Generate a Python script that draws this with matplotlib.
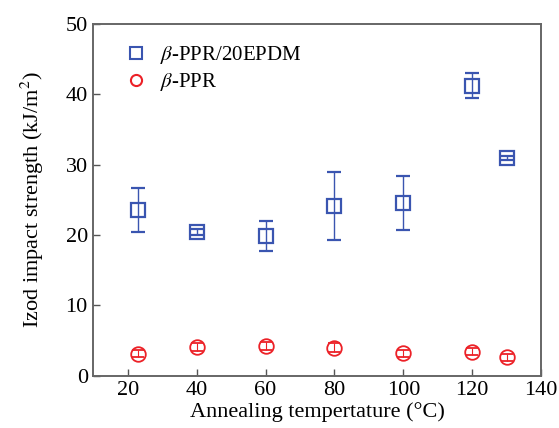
import numpy as np
import matplotlib
matplotlib.use("Agg")
import matplotlib.pyplot as plt
from matplotlib.lines import Line2D

plt.rcParams['font.family'] = ['Liberation Serif', 'DejaVu Serif']
plt.rcParams['mathtext.fontset'] = 'stix'

# Annealing temperature (C)
temp = [23, 40, 60, 80, 100, 120, 130]

# beta-PPR/20EPDM
blend_mean = [23.5, 20.4, 19.9, 24.1, 24.5, 41.2, 31.0]
blend_lo = [20.4, 20.0, 17.7, 19.3, 20.7, 39.5, 30.7]
blend_hi = [26.7, 20.8, 22.0, 29.0, 28.4, 43.0, 31.3]

# beta-PPR
ppr_mean = [3.1, 4.1, 4.2, 4.0, 3.2, 3.4, 2.6]
ppr_lo = [2.6, 3.5, 3.6, 3.4, 2.7, 2.9, 2.1]
ppr_hi = [3.6, 4.7, 4.8, 4.6, 3.7, 3.9, 3.1]

blue = '#3a55b0'
red = '#ec2127'

fig, ax = plt.subplots(figsize=(5.59, 4.28), dpi=100)
fig.subplots_adjust(left=0.167, right=0.968, top=0.944, bottom=0.122)

bm = np.array(blend_mean)
ax.errorbar(temp, bm, yerr=[bm - np.array(blend_lo), np.array(blend_hi) - bm],
            fmt='s', color=blue, mfc='none', mec=blue, ms=10, mew=1.6,
            elinewidth=1.0, capsize=5, capthick=1.0)
pm = np.array(ppr_mean)
ax.errorbar(temp, pm, yerr=[pm - np.array(ppr_lo), np.array(ppr_hi) - pm],
            fmt='o', color=red, mfc='none', mec=red, ms=10.5, mew=1.3,
            elinewidth=0.8, capsize=4, capthick=0.8)

ax.set_xlim(10, 140)
ax.set_ylim(0, 50)
ax.set_xticks([20, 40, 60, 80, 100, 120, 140])
ax.set_yticks([0, 10, 20, 30, 40, 50])
ax.tick_params(direction='in', length=5, width=1, color='#555555', labelsize=16,
               top=False, right=False, pad=4)
for s in ax.spines.values():
    s.set_color('#666666')
    s.set_linewidth(1.4)

ax.set_xlabel('Annealing tempertature (°C)', fontsize=16, labelpad=1)
ax.set_ylabel('Izod impact strength (kJ/m$^2$)', fontsize=16, labelpad=14)

handles = [Line2D([], [], ls='none', marker='s', ms=8, mfc='none', mec=blue, mew=1.5),
           Line2D([], [], ls='none', marker='o', ms=8, mfc='none', mec=red, mew=1.5)]
ax.legend(handles, [r'$\beta$-PPR/20EPDM', r'$\beta$-PPR'], loc='upper left',
          bbox_to_anchor=(0.0, 1.02),
          frameon=False, fontsize=15, handletextpad=0.4, handlelength=1.5,
          borderaxespad=0.9, labelspacing=0.25)

fig.savefig('out.png', dpi=100)
